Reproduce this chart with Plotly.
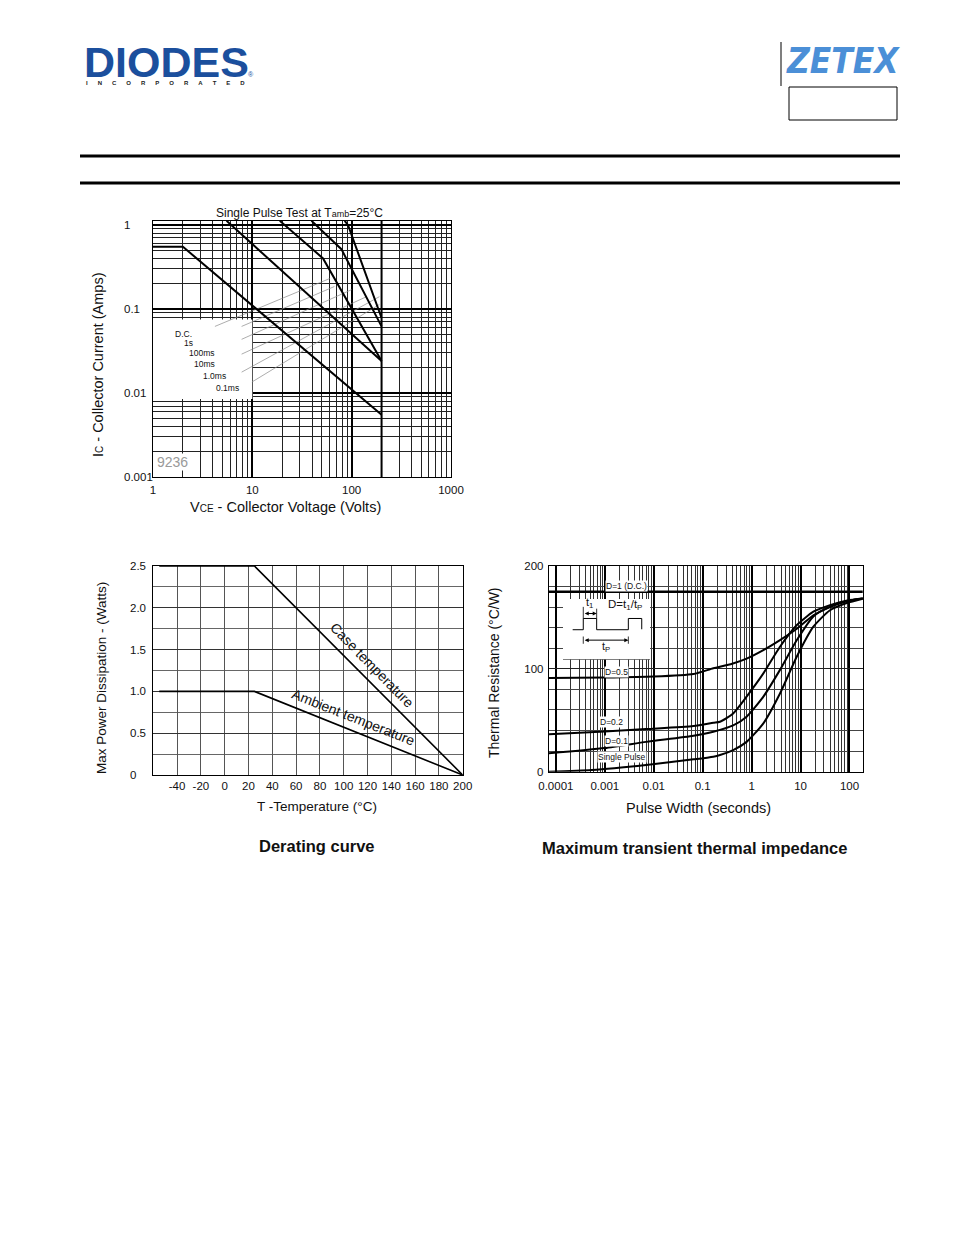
import numpy as np
import plotly.graph_objects as go

# page body adds an 8px margin; the figure is drawn in the remaining area
OFF = 8
W, H = 954 - OFF, 1235 - OFF
FONT = "Liberation Sans, Arial, Helvetica, sans-serif"


def px(x):
    return (x - OFF) / W


def py(y):
    return 1 - (y - OFF) / H


# ---------------- Safe operating area (top chart) ----------------
soa_x_ticks = [1, 10, 100, 1000]
soa_x_ticktext = ["1", "10", "100", "1000"]
soa_y_ticks = [1, 0.1, 0.01, 0.001]
soa_y_ticktext = ["1", "0.1", "0.01", "0.001"]

soa_dc_v = [1, 2, 200]
soa_dc_i = [0.55, 0.55, 0.0055]
soa_1s_v = [5.5, 200]
soa_1s_i = [1.12, 0.024]
soa_100ms_v = [18.9, 51.5, 200]
soa_100ms_i = [1.12, 0.40, 0.024]
soa_10ms_v = [39.4, 78.8, 200]
soa_10ms_i = [1.12, 0.515, 0.062]
soa_1ms_v = [85, 91.8, 200]
soa_1ms_i = [1.12, 1.0, 0.078]
soa_limit_v = [200, 200]
soa_limit_i = [0.001, 1.2]

soa_labels = ["D.C.", "1s", "100ms", "10ms", "1.0ms", "0.1ms"]
soa_label_v = [2.05, 2.3, 3.1, 3.33, 4.2, 5.58]
soa_label_i = [0.051, 0.0398, 0.0297, 0.0223, 0.016, 0.01146]
# leader lines: (v0, i0, v1, i1)
soa_leaders = [
    (4.2, 0.062, 60, 0.23),
    (7.8, 0.062, 67, 0.185),
    (7.8, 0.0435, 100, 0.17),
    (7.8, 0.029, 141, 0.14),
    (7.8, 0.0177, 190, 0.14),
    (9.9, 0.0135, 190, 0.113),
]
soa_box_v = [1, 10, 10, 1, 1]
soa_box_i = [0.0085, 0.0085, 0.075, 0.075, 0.0085]

# ---------------- Derating curve ----------------
der_x_ticks = [-40, -20, 0, 20, 40, 60, 80, 100, 120, 140, 160, 180, 200]
der_x_ticktext = ["-40", "-20", "0", "20", "40", "60", "80", "100", "120", "140", "160", "180", "200"]
der_y_ticks = [0, 0.5, 1.0, 1.5, 2.0, 2.5]
der_y_ticktext = ["0", "0.5", "1.0", "1.5", "2.0", "2.5"]
der_case_t = [-55, 25, 200]
der_case_p = [2.5, 2.5, 0]
der_amb_t = [-55, 25, 200]
der_amb_p = [1.0, 1.0, 0]

# ---------------- Transient thermal impedance ----------------
th_x_ticks = [0.0001, 0.001, 0.01, 0.1, 1, 10, 100]
th_x_ticktext = ["0.0001", "0.001", "0.01", "0.1", "1", "10", "100"]
th_y_ticks = [0, 100, 200]

th_dc_x = [7e-5, 200]
th_dc_y = [175, 175]
th_d05_x = [7e-5, 0.001, 0.01, 0.065, 0.165, 0.4, 0.79, 1.7, 3.8, 8.4, 18.3, 40, 90, 200]
th_d05_y = [91, 91.5, 92.5, 95, 100.5, 105, 110, 118, 128, 139, 152, 160, 166, 168.5]
th_d02_x = [7e-5, 0.001, 0.007, 0.065, 0.165, 0.226, 0.42, 0.79, 1.74, 3.8, 8.4, 18.3, 40, 90, 200]
th_d02_y = [36.3, 39, 41.5, 44.4, 47.6, 48.6, 56.7, 73, 95.6, 121.5, 142.6, 155.6, 162, 166.5, 168.5]
th_d01_x = [7e-5, 0.001, 0.007, 0.065, 0.165, 0.42, 0.79, 1.74, 3.8, 8.4, 18.3, 40, 90, 200]
th_d01_y = [17.8, 23, 29, 35, 38.9, 45, 53.5, 73, 99, 128, 151, 160.5, 166, 168.5]
th_sp_x = [7e-5, 0.00054, 0.007, 0.065, 0.165, 0.226, 0.42, 0.79, 1.74, 3.8, 8.4, 18.3, 40, 88, 200]
th_sp_y = [0, 1.6, 6.5, 12, 14.6, 16.2, 21, 29, 47, 76, 112, 141, 157, 164, 168.5]

th_labels = ["D=1 (D.C.)", "D=0.5", "D=0.2", "D=0.1", "Single Pulse"]
th_label_x = [0.0028, 0.00174, 0.00138, 0.00174, 0.0023]
th_label_y = [180.5, 96.6, 48.5, 29.5, 14.5]

# pulse inset diagram (inset unit coordinates)
pulse_u = [0.111, 0.233, 0.233, 0.387, 0.387, 0.751, 0.751, 0.905, 0.905]
pulse_v = [0.492, 0.492, 0.678, 0.678, 0.492, 0.492, 0.678, 0.678, 0.50]
t1_tick_u = [0.233, 0.233, None, 0.387, 0.387]
t1_tick_v = [0.678, 0.87, None, 0.678, 0.84]
tp_tick_u = [0.233, 0.233, None, 0.751, 0.751]
tp_tick_v = [0.26, 0.38, None, 0.26, 0.38]

BLACK = "#000000"

fig = go.Figure()

# ---- SOA traces
fig.add_trace(go.Scatter(x=soa_box_v, y=soa_box_i, fill="toself", fillcolor="white",
                         line=dict(width=0, color="white"), mode="lines",
                         xaxis="x", yaxis="y", hoverinfo="skip"))
for (v0, i0, v1, i1) in soa_leaders:
    fig.add_trace(go.Scatter(x=[v0, v1], y=[i0, i1], mode="lines",
                             line=dict(color="#8a8a8a", width=0.7),
                             xaxis="x", yaxis="y", hoverinfo="skip"))
for vv, ii in [(soa_dc_v, soa_dc_i), (soa_1s_v, soa_1s_i), (soa_100ms_v, soa_100ms_i),
               (soa_10ms_v, soa_10ms_i), (soa_1ms_v, soa_1ms_i), (soa_limit_v, soa_limit_i)]:
    fig.add_trace(go.Scatter(x=vv, y=ii, mode="lines", line=dict(color=BLACK, width=2),
                             xaxis="x", yaxis="y", hoverinfo="skip"))

# ---- Derating traces
fig.add_trace(go.Scatter(x=der_case_t, y=der_case_p, mode="lines",
                         line=dict(color=BLACK, width=1.6), xaxis="x2", yaxis="y2"))
fig.add_trace(go.Scatter(x=der_amb_t, y=der_amb_p, mode="lines",
                         line=dict(color=BLACK, width=1.6), xaxis="x2", yaxis="y2"))

# ---- Thermal traces
fig.add_trace(go.Scatter(x=th_dc_x, y=th_dc_y, mode="lines",
                         line=dict(color=BLACK, width=2.6), xaxis="x3", yaxis="y3"))
for xx, yy in [(th_d05_x, th_d05_y), (th_d02_x, th_d02_y), (th_d01_x, th_d01_y), (th_sp_x, th_sp_y)]:
    fig.add_trace(go.Scatter(x=xx, y=yy, mode="lines",
                             line=dict(color=BLACK, width=2, shape="spline", smoothing=0.6),
                             xaxis="x3", yaxis="y3"))

# ---- Inset pulse diagram
fig.add_trace(go.Scatter(x=[0, 1, 1, 0, 0], y=[0, 0, 1, 1, 0], fill="toself", fillcolor="white",
                         mode="lines", line=dict(width=0, color="white"), xaxis="x4", yaxis="y4"))
fig.add_trace(go.Scatter(x=[0, 1], y=[0.0, 0.0], mode="lines", line=dict(color=BLACK, width=1.2),
                         xaxis="x4", yaxis="y4"))
fig.add_trace(go.Scatter(x=pulse_u, y=pulse_v, mode="lines", line=dict(color=BLACK, width=1),
                         xaxis="x4", yaxis="y4"))
fig.add_trace(go.Scatter(x=t1_tick_u, y=t1_tick_v, mode="lines", line=dict(color=BLACK, width=0.8),
                         xaxis="x4", yaxis="y4"))
fig.add_trace(go.Scatter(x=tp_tick_u, y=tp_tick_v, mode="lines", line=dict(color=BLACK, width=0.8),
                         xaxis="x4", yaxis="y4"))

tickfont = dict(family=FONT, size=11.5, color="#111")


def minor_log(decades):
    return [m * d for d in decades for m in range(2, 10)]


axis_common = dict(showline=True, linecolor=BLACK, linewidth=1.4, mirror=True, ticks="",
                   zeroline=False, tickfont=tickfont, automargin=False)

fig.update_layout(
    width=W, height=H, autosize=False,
    margin=dict(l=0, r=0, t=0, b=0, pad=0, autoexpand=False),
    paper_bgcolor="white", plot_bgcolor="white", showlegend=False,
    xaxis=dict(domain=[px(153), px(451)], anchor="y", type="log", range=[0, 3],
               tickmode="array", tickvals=soa_x_ticks, ticktext=soa_x_ticktext,
               showgrid=True, gridcolor=BLACK, gridwidth=1.5, ticklabelstandoff=2,
               minor=dict(tickmode="array", tickvals=minor_log([1, 10, 100]), showgrid=True,
                          gridcolor="#222", gridwidth=0.6, ticks=""),
               **axis_common),
    yaxis=dict(domain=[py(477), py(221)], anchor="x", type="log", range=[-3, 0.047],
               tickmode="array", tickvals=soa_y_ticks, showticklabels=False,
               showgrid=True, gridcolor=BLACK, gridwidth=1.5,
               minor=dict(tickmode="array", tickvals=minor_log([0.001, 0.01, 0.1]), showgrid=True,
                          gridcolor="#222", gridwidth=0.6, ticks=""),
               **axis_common),
    xaxis2=dict(domain=[px(153.3), px(462.7)], anchor="y2", range=[-60, 200],
                tickmode="array", tickvals=der_x_ticks, ticktext=der_x_ticktext,
                showgrid=True, gridcolor="#555", gridwidth=0.9, ticklabelstandoff=0, **axis_common),
    yaxis2=dict(domain=[py(775), py(566)], anchor="x2", range=[0, 2.5],
                tickmode="array", tickvals=der_y_ticks, showticklabels=False,
                showgrid=True, gridcolor="#333", gridwidth=0.9,
                minor=dict(dtick=0.25, showgrid=True, gridcolor="#666", gridwidth=0.8, ticks=""),
                **axis_common),
    xaxis3=dict(domain=[px(549), px(862.7)], anchor="y3", type="log", range=[-4.14, 2.27],
                tickmode="array", tickvals=th_x_ticks, ticktext=th_x_ticktext,
                showgrid=True, gridcolor=BLACK, gridwidth=1.5, ticklabelstandoff=3,
                minor=dict(tickmode="array", tickvals=minor_log([0.0001, 0.001, 0.01, 0.1, 1, 10, 100]),
                           showgrid=True, gridcolor="#333", gridwidth=0.6, ticks=""),
                **axis_common),
    yaxis3=dict(domain=[py(771.7), py(566)], anchor="x3", range=[0, 200],
                tickmode="array", tickvals=th_y_ticks, showgrid=True, gridcolor="#222",
                gridwidth=1, ticklabelstandoff=2,
                minor=dict(dtick=20, showgrid=True, gridcolor="#444", gridwidth=0.8, ticks=""),
                **axis_common),
    xaxis4=dict(domain=[px(563), px(650)], anchor="y4", range=[0, 1], visible=False),
    yaxis4=dict(domain=[py(659.5), py(599)], anchor="x4", range=[0, 1], visible=False),
)

ann = []


def text(x, y, s, size=11, bold=False, xanchor="center", yanchor="middle", angle=0,
         color="#111", xref="paper", yref="paper", bg=None, family=FONT, italic=False):
    if bold:
        s = "<b>" + s + "</b>"
    if italic:
        s = "<i>" + s + "</i>"
    d = dict(x=x, y=y, xref=xref, yref=yref, text=s, showarrow=False, xanchor=xanchor,
             yanchor=yanchor, textangle=angle, font=dict(family=family, size=size, color=color))
    if bg:
        d["bgcolor"] = bg
        d["borderpad"] = 0
    ann.append(d)


# SOA texts
text(px(299), py(213), "Single Pulse Test at T<span style='font-size:9px'>amb</span>=25°C", size=12)
for t, v in zip(soa_y_ticktext, soa_y_ticks):
    text(px(122), float(np.log10(v)), t, size=11.5, xanchor="left", yref="y")
for t, v, i in zip(soa_labels, soa_label_v, soa_label_i):
    text(float(np.log10(v)), float(np.log10(i)), t, size=8.5, xref="x", yref="y")
text(float(np.log10(1.06)), float(np.log10(0.00118)), "9236", size=14, color="#9a9a9a",
     xanchor="left", yanchor="bottom", xref="x", yref="y", bg="white")
text(px(98), py(365), "I<span style='font-size:10px'>C</span> - Collector Current (Amps)", size=14.5, angle=-90)
text(px(285), py(507), "V<span style='font-size:10px'>CE</span> - Collector Voltage (Volts)", size=14.5)

# derating texts
for t, v in zip(der_y_ticktext, der_y_ticks):
    text(px(128), v, t, size=11.5, xanchor="left", yref="y2")
text(px(101), py(678), "Max Power Dissipation - (Watts)", size=13.5, angle=-90)
text(px(317), py(807), "T -Temperature (°C)", size=13.5)
text(px(372), py(665), "Case temperature", size=14, angle=45.5)
text(px(353), py(717), "Ambient temperature", size=14, angle=21.5)
text(px(317), py(846), "Derating curve", size=16.5, bold=True)

# thermal texts
for t, xv, yv in zip(th_labels, th_label_x, th_label_y):
    text(float(np.log10(xv)), yv, t, size=8.5, xref="x3", yref="y3", bg="white")
text(px(494), py(673), "Thermal Resistance (°C/W)", size=14, angle=-90)
text(px(698), py(808), "Pulse Width (seconds)", size=14.5)
text(px(694), py(848), "Maximum transient thermal impedance", size=16.5, bold=True)

# inset labels
text(0.302, 0.93, "t<sub>1</sub>", size=11, xref="x4", yref="y4")
text(0.71, 0.9, "D=t<sub>1</sub>/t<sub>P</sub>", size=11.5, xref="x4", yref="y4")
text(0.494, 0.2, "t<sub>P</sub>", size=11, xref="x4", yref="y4")
for (u0, u1, v) in [(0.233, 0.387, 0.76), (0.233, 0.751, 0.32)]:
    ann.append(dict(x=u1, y=v, ax=u0, ay=v, xref="x4", yref="y4", axref="x4", ayref="y4",
                    showarrow=True, arrowhead=2, arrowsize=0.8, arrowwidth=1, arrowside="end+start",
                    arrowcolor=BLACK, text=""))

# header logos
text(px(82), py(62), "DIODES", size=43, bold=True, color="#1b4f9d", xanchor="left")
spacer = "\u00a0" * 6
text(px(84), py(83), spacer.join(list("INCORPORATED")), size=6, bold=True, color="#222",
     xanchor="left")
text(px(251), py(74), "®", size=7, color="#1b4f9d")
text(px(843), py(61), "ZETEX", size=35, bold=True, italic=True, color="#4b8fd7",
     family="Liberation Sans Narrow, DejaVu Sans Condensed, Arial Narrow, sans-serif")

fig.update_layout(annotations=ann)

shapes = [
    dict(type="line", xref="paper", yref="paper", x0=px(80), x1=px(900), y0=py(156), y1=py(156),
         line=dict(color=BLACK, width=3)),
    dict(type="line", xref="paper", yref="paper", x0=px(80), x1=px(900), y0=py(183), y1=py(183),
         line=dict(color=BLACK, width=3)),
    dict(type="line", xref="paper", yref="paper", x0=px(781), x1=px(781), y0=py(42), y1=py(86),
         line=dict(color="#555", width=1.5)),
    dict(type="rect", xref="paper", yref="paper", x0=px(789), x1=px(897), y0=py(120), y1=py(87),
         line=dict(color=BLACK, width=1)),
]
fig.update_layout(shapes=shapes)

fig.write_html("out.html")
